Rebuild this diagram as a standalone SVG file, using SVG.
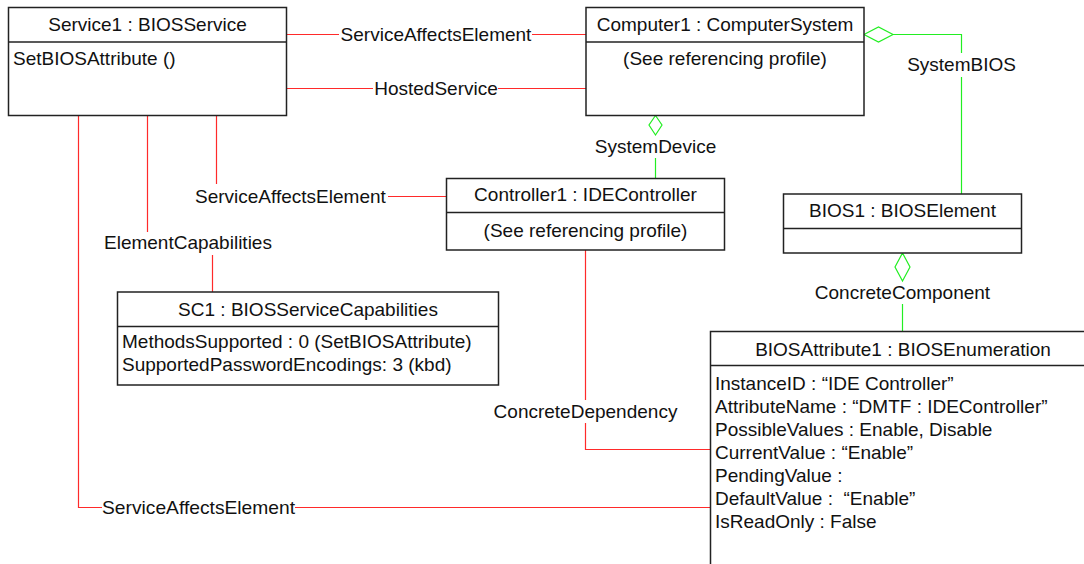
<svg xmlns="http://www.w3.org/2000/svg" width="1084" height="564" viewBox="0 0 1084 564">
  <style>
    text { font-family: "Liberation Sans", Arial, sans-serif; font-size: 19px; fill: #111; white-space: pre; }
    .c { text-anchor: middle; }
    .box { fill: #fff; stroke: #222; stroke-width: 1.5; }
    .div { stroke: #222; stroke-width: 1.5; }
    .red { fill: none; stroke: #ff2a2a; stroke-width: 1.2; }
    .grn { fill: none; stroke: #22ee22; stroke-width: 1.2; }
    .dia { fill: #fff; stroke: #22ee22; stroke-width: 1.2; }
  </style>

  <!-- Connectors -->
  <g id="connectors">
    <!-- ServiceAffectsElement: Service1 - Computer1 -->
    <path class="red" d="M286 34.5 H339 M532 34.5 H586"/>
    <text class="c" x="436" y="41">ServiceAffectsElement</text>
    <!-- HostedService -->
    <path class="red" d="M286 88.5 H373 M498 88.5 H586"/>
    <text class="c" x="436" y="95">HostedService</text>
    <!-- ServiceAffectsElement: Service1 - Controller1 -->
    <path class="red" d="M216.5 115 V184 M388 196.5 H446"/>
    <text x="195" y="202.5">ServiceAffectsElement</text>
    <!-- ElementCapabilities -->
    <path class="red" d="M147.5 115 V232 M212.5 255 V292"/>
    <text x="104" y="248.5">ElementCapabilities</text>
    <!-- ServiceAffectsElement: Service1 - BIOSAttribute1 -->
    <path class="red" d="M78.5 115 V507.5 H102 M295 507.5 H710"/>
    <text x="102" y="514" textLength="193" lengthAdjust="spacingAndGlyphs">ServiceAffectsElement</text>
    <!-- ConcreteDependency -->
    <path class="red" d="M585.5 250 V400 M585.5 423 V449.5 H710"/>
    <text class="c" x="585.5" y="417.5">ConcreteDependency</text>
    <!-- SystemDevice -->
    <path class="dia" d="M655.5 115.5 L662 125 L655.5 135 L649 125 Z"/>
    <path class="grn" d="M655.5 158 V178"/>
    <text class="c" x="655.5" y="153">SystemDevice</text>
    <!-- SystemBIOS -->
    <path class="dia" d="M864 34.5 L878.5 27 L893 34.5 L878.5 42 Z"/>
    <path class="grn" d="M893 34.5 H961.5 V53 M961.5 77 V194"/>
    <text class="c" x="961.5" y="71">SystemBIOS</text>
    <!-- ConcreteComponent -->
    <path class="dia" d="M902.5 253 L910 267 L902.5 281 L895 267 Z"/>
    <path class="grn" d="M902.5 304 V331"/>
    <text class="c" x="902.5" y="299">ConcreteComponent</text>
  </g>

  <!-- Service1 -->
  <g id="service1">
    <rect class="box" x="8.5" y="7.5" width="278" height="108"/>
    <line class="div" x1="8.5" y1="42" x2="286.5" y2="42"/>
    <text class="c" x="147.5" y="31">Service1 : BIOSService</text>
    <text x="13" y="65">SetBIOSAttribute ()</text>
  </g>

  <!-- Computer1 -->
  <g id="computer1">
    <rect class="box" x="586" y="7.5" width="278" height="108"/>
    <line class="div" x1="586" y1="42" x2="864" y2="42"/>
    <text class="c" x="725" y="31">Computer1 : ComputerSystem</text>
    <text class="c" x="725" y="65">(See referencing profile)</text>
  </g>

  <!-- Controller1 -->
  <g id="controller1">
    <rect class="box" x="446.5" y="178.5" width="278" height="71.5"/>
    <line class="div" x1="446.5" y1="212.5" x2="724.5" y2="212.5"/>
    <text class="c" x="585.5" y="201">Controller1 : IDEController</text>
    <text class="c" x="585.5" y="237">(See referencing profile)</text>
  </g>

  <!-- BIOS1 -->
  <g id="bios1">
    <rect class="box" x="783.5" y="194" width="238" height="59"/>
    <line class="div" x1="783.5" y1="228.5" x2="1021.5" y2="228.5"/>
    <text class="c" x="902.5" y="217">BIOS1 : BIOSElement</text>
  </g>

  <!-- SC1 -->
  <g id="sc1">
    <rect class="box" x="117.5" y="292" width="381" height="93"/>
    <line class="div" x1="117.5" y1="326.5" x2="498.5" y2="326.5"/>
    <text class="c" x="308" y="315.5">SC1 : BIOSServiceCapabilities</text>
    <text x="122" y="348">MethodsSupported : 0 (SetBIOSAttribute)</text>
    <text x="122" y="371">SupportedPasswordEncodings: 3 (kbd)</text>
  </g>

  <!-- BIOSAttribute1 -->
  <g id="biosattribute1">
    <rect class="box" x="710.5" y="331.5" width="380" height="240"/>
    <line class="div" x1="710.5" y1="365.5" x2="1084" y2="365.5"/>
    <text class="c" x="903" y="355.5">BIOSAttribute1 : BIOSEnumeration</text>
    <text x="715" y="389.5">InstanceID : “IDE Controller”</text>
    <text x="715" y="412.5">AttributeName : “DMTF : IDEController”</text>
    <text x="715" y="435.5">PossibleValues : Enable, Disable</text>
    <text x="715" y="458.5">CurrentValue : “Enable”</text>
    <text x="715" y="481.5">PendingValue :</text>
    <text x="715" y="504.5">DefaultValue :  “Enable”</text>
    <text x="715" y="527.5">IsReadOnly : False</text>
  </g>
</svg>
